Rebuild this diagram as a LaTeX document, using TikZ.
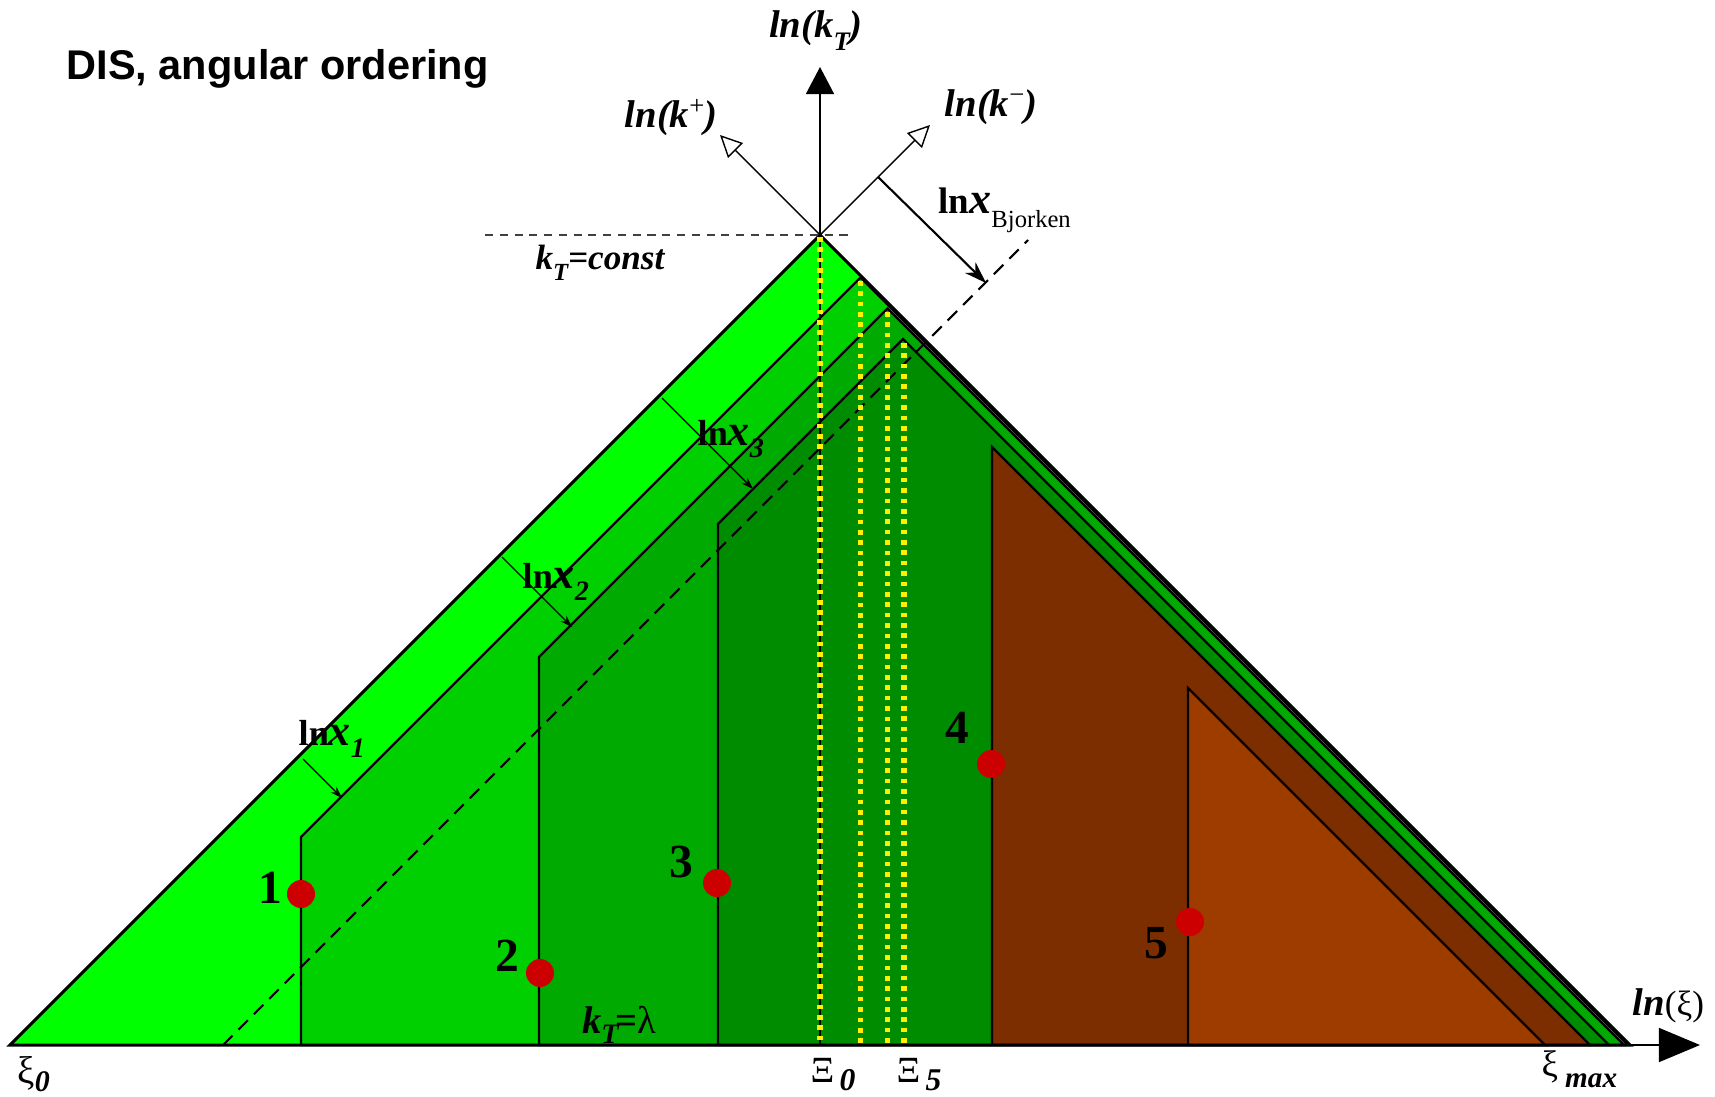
\documentclass[tikz,border=0pt]{standalone}
\usepackage{fontspec}
\setmainfont{Liberation Serif}
\setsansfont{Liberation Sans}
\usepackage{xcolor}
\usetikzlibrary{arrows.meta}

\definecolor{fullgreen}{RGB}{0,255,0}
\definecolor{greenone}{RGB}{0,208,0}
\definecolor{greentwo}{RGB}{0,170,0}
\definecolor{greenthree}{RGB}{0,140,0}
\definecolor{brownfour}{RGB}{124,46,0}
\definecolor{brownfive}{RGB}{158,60,0}
\definecolor{emitred}{RGB}{204,0,0}

\newcommand{\fsz}[1]{\fontsize{#1}{#1}\selectfont}
\newcommand{\lowsub}[2]{\raisebox{-#1}{#2}}
\newcommand{\lnx}[1]{{\fsz{10.3}\bfseries ln}{\fsz{12.5}\bfseries\itshape x}\lowsub{3.6pt}{\fsz{8}\bfseries\itshape #1}}

\begin{document}
\begin{tikzpicture}[x=0.01cm, y=-0.01cm,
  region/.style={draw=black, line width=0.65pt, line join=miter},
  yellowdots/.style={draw=yellow, line width=1.5pt, dash pattern=on 1.3pt off 1.65pt},
  emission/.style={circle, fill=emitred, inner sep=0pt, minimum size=0.28cm},
  emitnum/.style={font=\fsz{13.5}\bfseries, inner sep=0pt},
  lnarrow/.style={line width=0.35pt, -{Stealth[length=1.2mm, width=0.8mm]}},
  openhead/.style={line width=0.4pt, -{Triangle[open, fill=white, length=2.2mm, width=2.1mm]}},
  axislabel/.style={anchor=base, font=\fsz{11}\bfseries\itshape, inner sep=0pt},
  textlabel/.style={anchor=base west, inner sep=0pt}]
  \useasboundingbox (0,0) rectangle (1715,1097);

  \coordinate (apex) at (820,235);
  \coordinate (xi0) at (10,1045);
  \coordinate (ximax) at (1630,1045);
  \coordinate (ktend) at (820,67);
  \coordinate (kplus) at (720,135);
  \coordinate (kminus) at (930,125);
  \coordinate (xiend) at (1700,1045);
  \coordinate (bjfrom) at (878,177);
  \coordinate (bjto) at (986,283);
  \coordinate (xonefrom) at (303,759);
  \coordinate (xoneto) at (342,798);
  \coordinate (xtwofrom) at (502,557);
  \coordinate (xtwoto) at (572,627);
  \coordinate (xthreefrom) at (662,398);
  \coordinate (xthreeto) at (753,489);

  \fill[fullgreen] (xi0) -- (apex) -- (ximax) -- cycle;
  \filldraw[region, fill=greenone] (301,1045) -- (301,837) -- (860.5,277.5) -- (1628,1045) -- cycle;
  \filldraw[region, fill=greentwo] (539,1045) -- (539,657) -- (887.5,308.5) -- (1624,1045) -- cycle;
  \filldraw[region, fill=greenthree] (718,1045) -- (718,524) -- (903,339) -- (1609,1045) -- cycle;
  \filldraw[region, fill=brownfour] (992,1045) -- (992,447) -- (1590,1045) -- cycle;
  \filldraw[region, fill=brownfive] (1188,1045) -- (1188,688) -- (1545,1045) -- cycle;
  \draw[line width=0.85pt, line join=miter] (xi0) -- (apex) -- (ximax) -- cycle;

  \draw[line width=0.6pt, dash pattern=on 3.8pt off 2.4pt] (223,1045) -- (1028,240);
  \draw[line width=0.35pt, black!75, dash pattern=on 2.3pt off 1.9pt] (485,235) -- (853,235);

  \draw[line width=0.3pt] (apex) -- (820,1045);
  \draw[yellowdots] (820,237) -- (820,1045);
  \draw[yellowdots] (860.5,281) -- (860.5,1045);
  \draw[yellowdots] (887.5,312) -- (887.5,1045);
  \draw[yellowdots] (904,343) -- (904,1045);

  \draw[line width=0.4pt, -{Triangle[length=2.7mm, width=2.8mm]}] (apex) -- (ktend);
  \draw[openhead] (apex) -- (kplus);
  \draw[openhead] (apex) -- (kminus);
  \draw[line width=0.4pt, -{Triangle[length=4.1mm, width=3.4mm]}] (xi0) -- (xiend);
  \draw[line width=0.6pt, -{Stealth[length=2.2mm, width=1.5mm]}] (bjfrom) -- (bjto);
  \draw[lnarrow] (xonefrom) -- (xoneto);
  \draw[lnarrow] (xtwofrom) -- (xtwoto);
  \draw[lnarrow] (xthreefrom) -- (xthreeto);

  \node[emission] (e1) at (301,894) {};
  \node[emission] (e2) at (540,973) {};
  \node[emission] (e3) at (717,883) {};
  \node[emission] (e4) at (991,764) {};
  \node[emission] (e5) at (1190,922) {};
  \node[emitnum] (n1) at (270,888) {1};
  \node[emitnum] (n2) at (507,956) {2};
  \node[emitnum] (n3) at (681,862) {3};
  \node[emitnum] (n4) at (957,728) {4};
  \node[emitnum] (n5) at (1156,943) {5};

  \node[textlabel, font=\fsz{11.8}\sffamily\bfseries] (title) at (66,80) {DIS, angular ordering};
  \node[axislabel] (lnkt) at (816,38) {ln(k\lowsub{3.6pt}{\fsz{7.6}T})};
  \node[axislabel] (lnkp) at (671,128) {ln(k\raisebox{3.7pt}{\fsz{7.6}\normalfont +})};
  \node[axislabel] (lnkm) at (991,117) {ln(k\raisebox{3.7pt}{\fsz{7.6}\normalfont −})};
  \node[textlabel] (lnxbj) at (938,213) {{\fsz{10.5}\bfseries ln}{\fsz{12.5}\bfseries\itshape x}\lowsub{4pt}{\fsz{7}Bjorken}};
  \node[anchor=base, inner sep=0pt, font=\fsz{10}\bfseries\itshape] (ktconst) at (600,270) {k\lowsub{3pt}{\fsz{7}T}=const};
  \node[textlabel] (lx1) at (298,745) {\lnx{1}};
  \node[textlabel] (lx2) at (522,588) {\lnx{2}};
  \node[textlabel] (lx3) at (697,445) {\lnx{3}};
  \node[anchor=base, inner sep=0pt] (ktlam) at (619,1033) {{\fsz{11}\bfseries\itshape k\lowsub{3pt}{\fsz{8}T}}\kern-1pt{\fsz{11}\bfseries=}{\fsz{11}λ}};
  \node[textlabel] (labxi0) at (17,1083) {{\fsz{11}ξ}\lowsub{2.3pt}{\fsz{8.5}\bfseries\itshape 0}};
  \node[textlabel] (labbxi0) at (810,1082) {{\fsz{10.5}Ξ}\hspace{1.5pt}\lowsub{2.3pt}{\fsz{9}\bfseries\itshape 0}};
  \node[textlabel] (labbxi5) at (896,1082) {{\fsz{10.5}Ξ}\hspace{1.5pt}\lowsub{2.3pt}{\fsz{9}\bfseries\itshape 5}};
  \node[textlabel] (labximax) at (1541,1076) {{\fsz{10.5}ξ}\hspace{2pt}\lowsub{3.4pt}{\fsz{8.3}\bfseries\itshape max}};
  \node[textlabel] (lnxi) at (1632,1015) {{\fsz{11}\bfseries\itshape ln}{\fsz{10}(ξ)}};
\end{tikzpicture}
\end{document}
